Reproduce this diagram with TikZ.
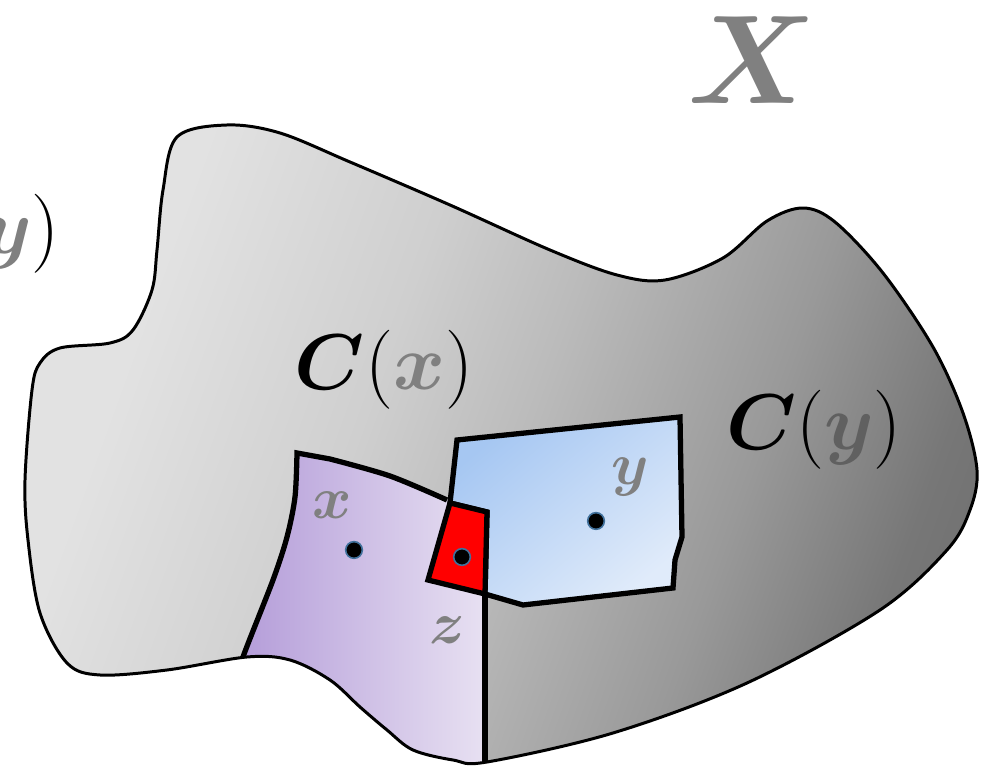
\RequirePackage{fix-cm}
\documentclass[tikz,border=0pt]{standalone}
\usepackage{amsmath, amssymb}
\usepackage{tikz}
\usetikzlibrary{positioning}
\definecolor{labelgray}{HTML}{808080}
\definecolor{ydark}{HTML}{606060}
\definecolor{dotrim}{HTML}{41719C}
\definecolor{lilacdark}{HTML}{B29AD8}
\definecolor{lilaclight}{HTML}{E8E1F2}
\definecolor{skydark}{HTML}{A6C7F2}
\definecolor{skylight}{HTML}{E0EBFA}
\definecolor{blobA}{HTML}{E2E2E2}
\definecolor{blobB}{HTML}{CFCFCF}
\definecolor{blobC}{HTML}{BBBBBB}
\definecolor{blobD}{HTML}{999999}
\definecolor{blobE}{HTML}{777777}
\definecolor{blobF}{HTML}{686868}
\pgfdeclarehorizontalshading{blobfade}{100bp}{color(0bp)=(blobA); color(28bp)=(blobA);
  color(42bp)=(blobB); color(51bp)=(blobC); color(64bp)=(blobD); color(74bp)=(blobE);
  color(84bp)=(blobF); color(100bp)=(blobF)}
\tikzset{
  outline/.style={line width=1.7pt, line join=round},
  cell/.style={draw, line width=3pt, line join=miter},
  pt/.style={circle, fill=black, draw=dotrim, line width=0.9pt, inner sep=0pt, minimum size=9.5pt},
  ptlabel/.style={text=labelgray, font=\fontsize{34}{40}\selectfont},
  setlabel/.style={font=\fontsize{45}{54}\selectfont}
}
\def\blob{plot[smooth cycle, tension=0.55] coordinates {
  (227,125) (280,133) (350,162) (450,205) (550,250) (617,275) (665,280)
  (723,258) (767,221) (803,208) (835,222) (883,273) (933,347) (963,413)
  (977,470) (970,510) (947,550) (880,610) (747,683) (613,733) (487,762)
  (453,760) (413,750) (387,730) (360,707) (330,680) (290,660) (247,657)
  (167,670) (100,675) (67,663) (40,613) (28,540) (25,480) (32,390)
  (40,363) (60,348) (110,343) (133,330) (152,290) (157,250) (163,190)
  (177,137)}}

\begin{document}
\begin{tikzpicture}[x=0.02cm, y=-0.02cm]
  \useasboundingbox (0,0) rectangle (992,766);
  \shade[shading=blobfade, shading angle=-20] \blob;
  \begin{scope}
    \clip \blob;
    \shade[left color=lilacdark, right color=lilaclight]
      plot[smooth] coordinates {(238,680) (243,657) (273,580) (287,537) (295,497) (297,453)}
      -- plot[smooth] coordinates {(330,459) (390,476) (447,500)}
      -- (487,510) -- (485,790) -- (230,790) -- cycle;
    \draw[cell] plot[smooth] coordinates {(238,680) (243,657) (273,580) (287,537) (295,497) (297,453)}
      -- plot[smooth] coordinates {(330,459) (390,476) (447,500)};
    \draw[cell] (485,594) -- (485,790);
  \end{scope}
  \shade[cell, top color=skydark, bottom color=skylight, shading angle=40]
    (457,440) -- (680,417) -- (682,537) -- (675,560) -- (673,588) -- (523,605) -- (485,594) -- (487,512) -- (450,503) -- cycle;
  \draw[cell, fill=red] (450,503) -- (487,512) -- (485,594) -- (428,580) -- cycle;
  \draw[outline] \blob;

  \node[pt] (px) at (354,550) {};
  \node[pt] (pz) at (462,557) {};
  \node[pt] (py) at (596,521) {};
  \node[ptlabel] (lx) at (332,505) {$\boldsymbol{x}$};
  \node[ptlabel] (ly) at (630,477) {$\boldsymbol{y}$};
  \node[ptlabel] (lz) at (447,630) {$\boldsymbol{z}$};

  \node[setlabel] (cx) at (384,370) {$\boldsymbol{C}(\textcolor{labelgray}{\boldsymbol{x}})$};
  \node[setlabel] (cy) at (814,430) {$\boldsymbol{C}(\textcolor{ydark}{\boldsymbol{y}})$};
  \node[setlabel, anchor=east] (cyout) at (66,234) {$\textcolor{labelgray}{\boldsymbol{y}})$};
  \node[text=labelgray, inner sep=0pt, font=\fontsize{72}{80}\selectfont] (space) at (752,60) {$\boldsymbol{X}$};
\end{tikzpicture}
\end{document}
